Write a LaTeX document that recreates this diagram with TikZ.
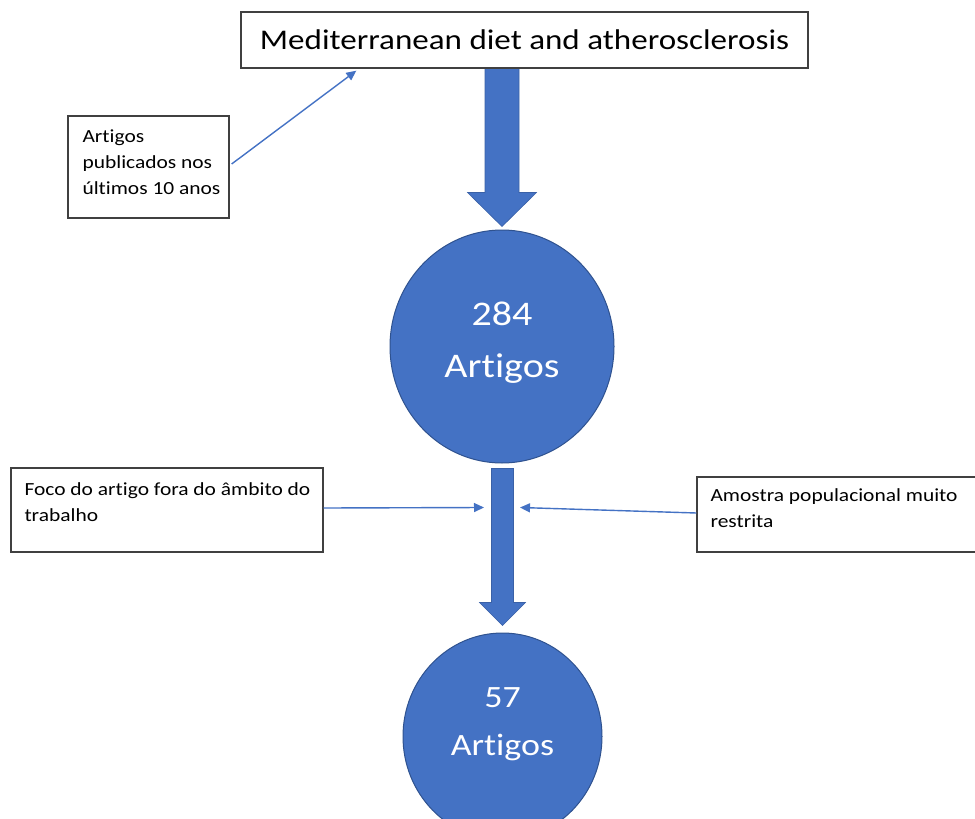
\documentclass[tikz,border=0pt]{standalone}
\usepackage{fontspec}
\setmainfont{Carlito}[FakeStretch=1.16, Ligatures=NoCommon]
\usetikzlibrary{shapes.geometric,arrows.meta,calc,backgrounds}
\definecolor{officeblue}{HTML}{4472C4}
\definecolor{darkblue}{HTML}{2F528F}
\definecolor{boxline}{HTML}{404040}
\tikzset{
  textbox/.style={draw=boxline, line width=1.3pt, fill=white, inner sep=0pt},
  smalltext/.style={font=\fontsize{18.5}{26}\selectfont, align=left, inner sep=0pt},
  bigcircle/.style={ellipse, fill=officeblue, draw=darkblue, line width=1pt, inner sep=0pt},
  circtext/.style={text=white, align=center, inner sep=0pt},
  blockarrow/.style={fill=officeblue, draw=officeblue!85!black, line width=0.6pt, line join=miter},
  thinarrow/.style={draw=officeblue, line width=1.4pt, -{Triangle[length=10pt,width=9pt]}}
}
\begin{document}
\begin{tikzpicture}[x=1pt,y=-1pt]
\useasboundingbox (0,0) rectangle (975,819);
\clip (0,0) rectangle (975,819);

% title box
\node[textbox, minimum width=567pt, minimum height=56pt, font=\fontsize{28.5}{34}\selectfont] (title) at (524.5,40) {Mediterranean diet and atherosclerosis};

% circles
\node[bigcircle, minimum width=224pt, minimum height=233pt] (c1) at (502,346.5) {};
\node[circtext, font=\fontsize{34.5}{52}\selectfont, anchor=base] (c1t) at ($(c1.center)+(0,30.5)$) {284\\Artigos};
\node[bigcircle, minimum width=199pt, minimum height=207pt] (c2) at (502.5,736.5) {};
\node[circtext, font=\fontsize{31}{48}\selectfont, anchor=base] (c2t) at ($(c2.center)+(0,18.5)$) {57\\Artigos};

% side boxes
\node[textbox, minimum width=161pt, minimum height=102pt] (lbox) at (148.5,167) {};
\node[smalltext, anchor=base west] (ltext) at ($(lbox.north west)+(15,79)$) {Artigos\\publicados nos\\últimos 10 anos};
\node[textbox, minimum width=312pt, minimum height=84pt] (lbox2) at (167,510) {};
\node[smalltext, anchor=base west] (l2text) at ($(lbox2.north west)+(14,54)$) {Foco do artigo fora do âmbito do\\trabalho};
\node[textbox, minimum width=303pt, minimum height=75pt] (rbox) at (848.5,514.5) {};
\node[smalltext, anchor=base west] (rtext) at ($(rbox.north west)+(14,51)$) {Amostra populacional muito\\restrita};

% block arrows
\begin{scope}[on background layer]
\coordinate (a1top) at (c1.north |- title.south);
\draw[blockarrow] ($(a1top)+(-17,0)$) -- ($(c1.north)+(-17,-37)$) -- ($(c1.north)+(-34.5,-37)$) -- ($(c1.north)+(0,-3)$) -- ($(c1.north)+(34.5,-37)$) -- ($(c1.north)+(17,-37)$) -- ($(a1top)+(17,0)$) -- cycle;
\coordinate (a2top) at ($(c2.north |- c1.south)+(0,5)$);
\draw[blockarrow] ($(a2top)+(-11,0)$) -- ($(c2.north)+(-11,-30)$) -- ($(c2.north)+(-23,-30)$) -- ($(c2.north)+(0,-7)$) -- ($(c2.north)+(23,-30)$) -- ($(c2.north)+(11,-30)$) -- ($(a2top)+(11,0)$) -- cycle;
\end{scope}

% thin arrows
\draw[thinarrow] ($(lbox.east)+(2,-3)$) -- ($(title.south west)+(116,2)$);
\draw[thinarrow] ($(lbox2.east)+(0,-2)$) -- ($(c1.south)+(-18,44)$);
\draw[thinarrow] ($(rbox.west)+(0,-1.5)$) -- ($(c1.south)+(18,44)$);
\end{tikzpicture}
\end{document}
